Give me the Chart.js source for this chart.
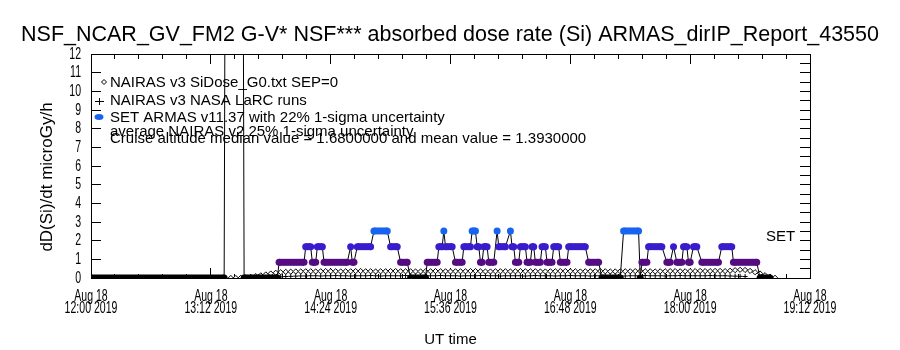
<!DOCTYPE html>
<html>
<head>
<meta charset="UTF-8" />
<title>ARMAS absorbed dose rate</title>
<script src="https://cdn.jsdelivr.net/npm/chart.js"></script>
<style>
  body { margin: 0; background: #fff; }
  #wrap { width: 900px; height: 350px; }
</style>
</head>
<body>
<div id="wrap"><canvas id="myChart"></canvas></div>
<script>
// SET ARMAS v11.37 dose rate (microGy/h), UT on Aug 18 2019
const armasTime = [
  '12:00', '13:20', '13:21', '13:31', '13:32', '13:52', '13:53', '14:08', '14:09', '14:12',
  '14:13', '14:15', '14:16', '14:19', '14:20', '14:34', '14:36', '14:37', '14:38', '14:40',
  '14:48', '14:50', '14:58', '15:00', '15:04', '15:06', '15:10', '15:12', '15:21', '15:22',
  '15:28', '15:29', '15:31', '15:32', '15:33', '15:37', '15:39', '15:43', '15:44', '15:48',
  '15:49', '15:51', '15:52', '15:53', '15:54', '15:55', '15:56', '15:58', '15:59', '16:02',
  '16:04', '16:05', '16:09', '16:12', '16:13', '16:14', '16:15', '16:17', '16:18', '16:21',
  '16:22', '16:24', '16:25', '16:26', '16:27', '16:30', '16:31', '16:33', '16:34', '16:37',
  '16:38', '16:41', '16:42', '16:46', '16:47', '16:57', '16:59', '17:05', '17:07', '17:18',
  '17:20', '17:29', '17:30', '17:31', '17:34', '17:35', '17:43', '17:46', '17:48', '17:50',
  '17:52', '17:55', '17:56', '17:58', '17:59', '18:00', '18:02', '18:04', '18:07', '18:17',
  '18:19', '18:25', '18:26', '18:40', '18:42', '18:48'
];
const armasDose = [
  0, 0, 30, 30, 0, 0, 0.84, 0.84, 1.68, 1.68,
  0.84, 0.84, 1.68, 1.68, 0.84, 0.84, 1.68, 0.84, 0.84, 1.68,
  1.68, 2.52, 2.52, 1.68, 1.68, 0.84, 0.84, 0, 0, 0.84,
  0.84, 1.68, 1.68, 2.52, 1.68, 1.68, 0.84, 0.84, 1.68, 1.68,
  2.52, 2.52, 1.68, 1.68, 0.84, 0.84, 1.68, 1.68, 0.84, 0.84,
  2.52, 1.68, 1.68, 2.52, 1.68, 1.68, 0.84, 0.84, 1.68, 1.68,
  0.84, 0.84, 1.68, 1.68, 0.84, 0.84, 1.68, 1.68, 0.84, 0.84,
  1.68, 1.68, 0.84, 0.84, 1.68, 1.68, 0.84, 0.84, 0, 0,
  2.52, 2.52, 0, 0.84, 0.84, 1.68, 1.68, 0.84, 0.84, 1.68,
  0.84, 0.84, 1.68, 1.68, 0.84, 0.84, 1.68, 1.68, 0.84, 0.84,
  1.68, 1.68, 0.84, 0.84, 0, 0
];

// NAIRAS v3 SiDose_G0.txt SEP=0, one value every 3 minutes
const g0Start = '13:24';
const g0Dose = [
  0.00, 0.00, 0.01, 0.03, 0.06, 0.10, 0.14, 0.19, 0.24, 0.28, 0.31, 0.33, 0.34,
  0.35, 0.35, 0.36, 0.36, 0.35, 0.36, 0.37, 0.36, 0.36, 0.35,
  0.36, 0.36, 0.37, 0.37, 0.36, 0.36, 0.35, 0.36, 0.36, 0.37,
  0.37, 0.36, 0.36, 0.36, 0.35, 0.35, 0.36, 0.36, 0.37, 0.36,
  0.36, 0.35, 0.36, 0.36, 0.36, 0.37, 0.37, 0.36, 0.35, 0.35,
  0.36, 0.36, 0.36, 0.35, 0.36, 0.37, 0.36, 0.36, 0.36, 0.35,
  0.35, 0.36, 0.36, 0.37, 0.37, 0.36, 0.36, 0.35, 0.36, 0.36,
  0.36, 0.37, 0.36, 0.35, 0.35, 0.36, 0.36, 0.36, 0.37, 0.37,
  0.36, 0.36, 0.35, 0.36, 0.36, 0.37, 0.37, 0.36, 0.36, 0.37,
  0.37, 0.38, 0.37, 0.37, 0.38, 0.38,
  0.37, 0.39, 0.42, 0.44, 0.43, 0.38, 0.31, 0.24, 0.15, 0.07, 0.01
];

// NAIRAS v3 NASA LaRC runs, one value every 3 minutes
const larcStart = '13:54';
const larcDose = [
  0.06, 0.08, 0.09, 0.10, 0.11,
  0.11, 0.12, 0.12, 0.11, 0.12, 0.12, 0.13, 0.12, 0.12, 0.11,
  0.12, 0.12, 0.12, 0.13, 0.12, 0.11, 0.12, 0.12, 0.12, 0.12,
  0.13, 0.12, 0.12, 0.11, 0.11, 0.12, 0.12, 0.13, 0.12, 0.12,
  0.12, 0.11, 0.12, 0.12, 0.12, 0.13, 0.13, 0.12, 0.12, 0.11,
  0.12, 0.12, 0.12, 0.12, 0.11, 0.12, 0.13, 0.12, 0.12, 0.12,
  0.11, 0.12, 0.12, 0.13, 0.12, 0.12, 0.12, 0.11, 0.12, 0.12,
  0.12, 0.13, 0.12, 0.12, 0.11, 0.12, 0.12, 0.12, 0.13, 0.12,
  0.12, 0.12, 0.11, 0.12, 0.12, 0.13, 0.12, 0.12, 0.12, 0.12,
  0.12, 0.13, 0.12, 0.12,
  0.12, 0.11, 0.10, 0.09, 0.08
];

const xTickLabels = ['12:00', '13:12', '14:24', '15:36', '16:48', '18:00', '19:12'];
const xDate = 'Aug 18';
const xYear = '2019';

const legendLines = [
  'NAIRAS v3 SiDose_G0.txt SEP=0',
  'NAIRAS v3 NASA LaRC runs',
  'SET ARMAS v11.37 with 22% 1-sigma uncertainty',
  'average NAIRAS v2 25% 1-sigma uncertainty',
  'Cruise altitude median value = 1.6800000 and mean value = 1.3930000'
];

// minutes after 12:00 UT
function toMin(s) {
  const [h, m] = s.split(':').map(Number);
  return (h - 12) * 60 + m;
}

const armasPts = armasTime.map((t, i) => ({ x: toMin(t), y: armasDose[i] }));
const g0Pts = g0Dose.map((v, i) => ({ x: toMin(g0Start) + 3 * i, y: v }));
const larcPts = larcDose.map((v, i) => ({ x: toMin(larcStart) + 3 * i, y: v }));

function levelColor(v) {
  if (v <= 0 || v > 3) return '#000000';
  if (v < 1.2) return '#550c82';
  if (v < 2.0) return '#3a1ccc';
  return '#1664f0';
}

const plain = "'Liberation Sans', 'DejaVu Sans', sans-serif";

// condensed text, like the narrow plot font of the original
function narrowText(ctx, s, x, y, align) {
  ctx.save();
  ctx.translate(x, y);
  ctx.scale(0.62, 1);
  ctx.textAlign = align;
  ctx.fillText(s, 0, 0);
  ctx.restore();
}

// tick labels, legend and the other text written inside the plot
const textPlugin = {
  id: 'plotText',
  afterDraw(chart) {
    const { ctx, chartArea: a, scales: { x, y } } = chart;
    ctx.save();
    ctx.fillStyle = '#000';
    ctx.font = '17px ' + plain;
    ctx.textBaseline = 'alphabetic';
    x.ticks.forEach((t, i) => {
      if (i % 5 !== 0) return;
      const px = x.getPixelForValue(t.value);
      narrowText(ctx, xDate, px, a.bottom + 23, 'center');
      narrowText(ctx, xTickLabels[i / 5] + ' ' + xYear, px, a.bottom + 35, 'center');
    });
    ctx.textBaseline = 'middle';
    y.ticks.forEach(t => {
      narrowText(ctx, String(t.value), a.left - 10, y.getPixelForValue(t.value), 'right');
    });

    const lx = a.left, ly = a.top;
    ctx.font = '15px ' + plain;
    ctx.textAlign = 'left';
    ctx.textBaseline = 'alphabetic';
    const base = [33, 51, 68, 82, 88.5];
    legendLines.forEach((s, i) => ctx.fillText(s, lx + 19, ly + base[i]));
    ctx.fillText('SET', a.right - 44, y.getPixelForValue(2) + 0.5);

    // legend symbols
    ctx.strokeStyle = '#000';
    ctx.lineWidth = 1;
    ctx.beginPath();
    ctx.moveTo(lx + 13, ly + 25.5); ctx.lineTo(lx + 15.5, ly + 28);
    ctx.lineTo(lx + 13, ly + 30.5); ctx.lineTo(lx + 10.5, ly + 28); ctx.closePath();
    ctx.moveTo(lx + 4, ly + 47.5); ctx.lineTo(lx + 13, ly + 47.5);
    ctx.moveTo(lx + 8.5, ly + 44); ctx.lineTo(lx + 8.5, ly + 51);
    ctx.stroke();
    ctx.fillStyle = levelColor(2.52);
    ctx.beginPath();
    ctx.ellipse(lx + 8, ly + 63, 4.5, 3, 0, 0, Math.PI * 2);
    ctx.fill();

    ctx.fillStyle = '#000';
    ctx.font = '17px ' + plain;
    ctx.textAlign = 'center';
    ctx.textBaseline = 'middle';
    ctx.translate(47, 177);
    ctx.rotate(-Math.PI / 2);
    ctx.fillText('dD(Si)/dt microGy/h', 0, 0);
    ctx.restore();
  }
};

Chart.defaults.color = '#000';

// axis lines and inward ticks are drawn by Chart.js itself
const axisBorder = { display: true, color: '#000', width: 1 };
const inwardGrid = (len, dash) => ({
  display: true,
  drawOnChartArea: false,
  drawTicks: true,
  tickLength: -len,
  color: '#000',
  tickColor: '#000',
  tickWidth: 1,
  tickBorderDash: dash
});

new Chart(document.getElementById('myChart'), {
  type: 'line',
  data: {
    datasets: [
      {
        label: legendLines[2],
        data: armasPts,
        order: 1,
        clip: 0,
        borderColor: '#000',
        borderWidth: 1,
        pointRadius: 3.5,
        pointBorderWidth: 0,
        pointBackgroundColor: c => levelColor(c.raw.y),
        segment: {
          borderColor: c => c.p0.parsed.y === c.p1.parsed.y ? levelColor(c.p0.parsed.y) : '#000',
          borderWidth: c => c.p0.parsed.y === c.p1.parsed.y ? 7 : 1
        }
      },
      {
        label: legendLines[0],
        data: g0Pts,
        order: 2,
        showLine: false,
        pointStyle: 'rectRot',
        pointRadius: 2.6,
        pointBorderColor: '#000',
        pointBackgroundColor: '#fff',
        pointBorderWidth: 1
      },
      {
        label: legendLines[1],
        data: larcPts,
        order: 3,
        showLine: false,
        pointStyle: 'cross',
        pointRadius: 2.5,
        pointBorderColor: '#000',
        pointBorderWidth: 1
      }
    ]
  },
  options: {
    responsive: true,
    maintainAspectRatio: false,
    animation: false,
    events: [],
    layout: { padding: 0 },
    plugins: {
      legend: { display: false },
      tooltip: { enabled: false },
      title: {
        display: true,
        text: 'NSF_NCAR_GV_FM2 G-V* NSF*** absorbed dose rate (Si) ARMAS_dirIP_Report_43550',
        font: { family: plain, size: 21.5, weight: 'normal', lineHeight: 1.2 },
        padding: { top: 22, bottom: 6.2 }
      }
    },
    scales: {
      x: {
        type: 'linear',
        position: 'bottom',
        min: 0,
        max: 432,
        afterFit: s => { s.height = 72; },
        grid: inwardGrid(10, c => (c.index % 5 === 0 ? [] : [5, 100])),
        border: axisBorder,
        ticks: { stepSize: 14.4, autoSkip: false, display: false },
        title: {
          display: true,
          text: 'UT time',
          font: { family: plain, size: 15, lineHeight: 1.2 },
          padding: { top: 0, bottom: 1 }
        }
      },
      xTop: {
        type: 'linear',
        position: 'top',
        min: 0,
        max: 432,
        afterFit: s => { s.height = 0; },
        grid: inwardGrid(10, c => (c.index % 5 === 0 ? [] : [0, 5, 5, 100])),
        border: axisBorder,
        ticks: { stepSize: 14.4, autoSkip: false, display: false }
      },
      y: {
        min: 0,
        max: 12,
        afterFit: s => { s.width = 91; },
        grid: inwardGrid(10, []),
        border: axisBorder,
        ticks: { stepSize: 1, autoSkip: false, display: false }
      },
      yRight: {
        position: 'right',
        min: 0,
        max: 12,
        afterFit: s => { s.width = 90; },
        grid: inwardGrid(10, []),
        border: axisBorder,
        ticks: { stepSize: 0.5, autoSkip: false, display: false }
      }
    }
  },
  plugins: [textPlugin]
});
</script>
</body>
</html>
